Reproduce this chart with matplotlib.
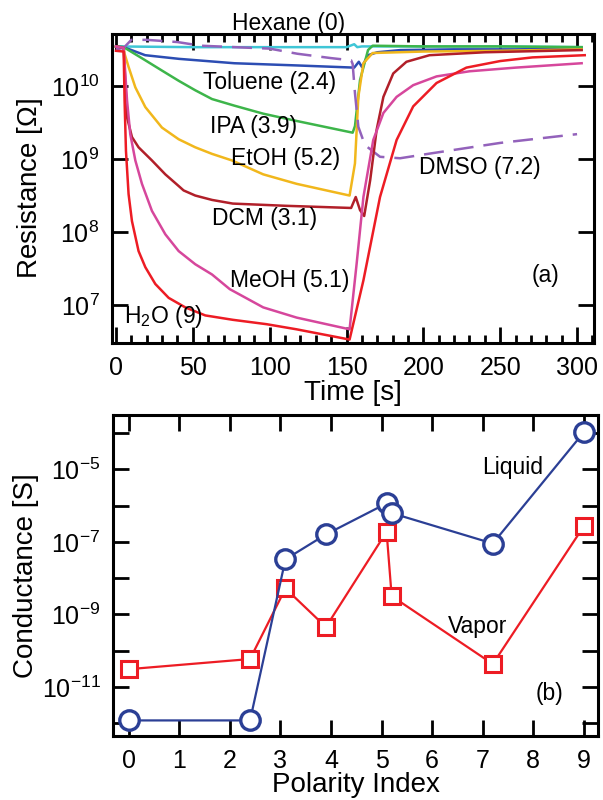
import numpy as np
import matplotlib
matplotlib.use("Agg")
import matplotlib.pyplot as plt
from matplotlib.ticker import FixedLocator, MultipleLocator

plt.rcParams["font.family"] = ["Liberation Sans", "DejaVu Sans"]
plt.rcParams["mathtext.fontset"] = "custom"
plt.rcParams["mathtext.rm"] = "Liberation Sans"
plt.rcParams["mathtext.it"] = "Liberation Sans"
plt.rcParams["mathtext.default"] = "regular"

# ---- panel (a): resistance transients, log10(R / Ohm) vs time [s] ----
hexane_t = [0, 50, 100, 150, 155, 157, 160, 200, 250, 303]
hexane_logr = [10.54, 10.53, 10.53, 10.53, 10.57, 10.53, 10.54, 10.54, 10.54, 10.53]

toluene_t = [0, 5, 19, 41, 77, 117.6, 155, 158, 160, 164, 170, 185, 220, 260, 303]
toluene_logr = [10.54, 10.53, 10.42, 10.37, 10.31, 10.28, 10.25, 10.33, 10.26, 10.42,
                10.46, 10.49, 10.5, 10.5, 10.51]

ipa_t = [0, 5, 19.1, 29.9, 40.8, 51.6, 62.5, 77, 95.8, 117.6, 154, 155.5, 158.8, 164,
         167, 200, 250, 303]
ipa_logr = [10.54, 10.53, 10.35, 10.21, 10.07, 9.94, 9.82, 9.73, 9.62, 9.52, 9.36, 9.45,
            10.08, 10.49, 10.55, 10.54, 10.54, 10.53]

etoh_t = [0, 5, 5.6, 8.2, 12.6, 19.1, 29.9, 40.8, 51.6, 62.5, 75.5, 95.8, 117.6, 152,
          155.5, 157.7, 161, 167, 200, 250, 303]
etoh_logr = [10.54, 10.52, 10.44, 10.26, 9.98, 9.71, 9.43, 9.27, 9.16, 9.07, 8.98, 8.79,
             8.66, 8.5, 8.94, 9.85, 10.31, 10.45, 10.47, 10.48, 10.5]

dcm_t = [0, 5, 6.1, 7.2, 10.4, 14.7, 23.4, 32.1, 40.8, 44, 51.6, 62.5, 76, 110, 153,
         156, 158.8, 161.5, 165.4, 169.6, 174, 180.4, 189, 204, 240, 303]
dcm_logr = [10.54, 10.52, 10.03, 9.57, 9.3, 9.16, 8.98, 8.79, 8.63, 8.57, 8.5, 8.44,
            8.39, 8.36, 8.33, 8.48, 8.3, 8.22, 8.71, 9.4, 9.85, 10.17, 10.33, 10.42,
            10.46, 10.49]

meoh_t = [0, 5, 7.2, 9.3, 12.6, 16.9, 23.4, 32.1, 40.8, 51.6, 62.5, 74, 95.8, 117.6,
          152, 156.6, 161, 167.4, 174, 182.6, 193.4, 208.6, 230, 260, 303]
meoh_logr = [10.54, 10.52, 9.8, 9.34, 8.98, 8.66, 8.29, 7.97, 7.74, 7.56, 7.42, 7.22,
             6.97, 6.83, 6.67, 7.57, 8.48, 9.26, 9.63, 9.85, 10.01, 10.13, 10.2, 10.25,
             10.31]

h2o_t = [0, 5, 5.6, 6.5, 8.2, 10.4, 14.7, 19.1, 25.6, 34.3, 45.1, 58.1, 76, 98, 117.5,
         152, 161, 171.8, 182.6, 193.4, 208.6, 228, 250, 271, 305]
h2o_logr = [10.48, 10.47, 9.8, 9.11, 8.52, 8.15, 7.74, 7.52, 7.29, 7.1, 6.97, 6.86, 6.8,
            6.74, 6.67, 6.53, 7.34, 8.48, 9.26, 9.72, 10.04, 10.25, 10.34, 10.39, 10.42]

dmso_t = [0, 5, 10, 20, 40, 55, 100, 118, 140, 153, 154, 155.5, 157.7, 162, 171.8,
          184.8, 206, 250, 300]
dmso_logr = [10.5, 10.52, 10.63, 10.63, 10.6, 10.55, 10.51, 10.44, 10.38, 10.35, 10.3,
             9.9, 9.44, 9.19, 9.03, 9.01, 9.08, 9.22, 9.34]

# ---- panel (b): conductance vs polarity index ----
polarity = [0, 2.4, 3.1, 3.9, 5.1, 5.2, 7.2, 9]
liquid_g = [1.2e-12, 1.2e-12, 3.3e-8, 1.6e-7, 1.15e-6, 6.2e-7, 9e-8, 1.05e-4]
vapor_g = [3.1e-11, 5.9e-11, 5.2e-9, 4.5e-10, 1.9e-7, 3.2e-9, 4.3e-11, 2.7e-7]

fig = plt.figure(figsize=(6.03, 8.0), dpi=100)
ax1 = fig.add_axes([0.1857, 0.571, 0.7993, 0.3865])
ax2 = fig.add_axes([0.1874, 0.08, 0.8043, 0.401])

curves = [
    (hexane_t, hexane_logr, "#3fc6d6", "-"),
    (toluene_t, toluene_logr, "#2c4db3", "-"),
    (ipa_t, ipa_logr, "#3db54a", "-"),
    (etoh_t, etoh_logr, "#f1b71c", "-"),
    (dmso_t, dmso_logr, "#9362bb", (0, (8, 4))),
    (dcm_t, dcm_logr, "#b11f29", "-"),
    (meoh_t, meoh_logr, "#d6479c", "-"),
    (h2o_t, h2o_logr, "#ed1c24", "-"),
]
for t, logr, color, ls in curves:
    ax1.plot(t, 10.0 ** np.array(logr), color=color, lw=1.8, ls=ls)

ax1.set_yscale("log")
ax1.set_xlim(-2.6, 311)
ax1.set_ylim(10 ** 6.48, 10 ** 10.71)
ax1.yaxis.set_major_locator(FixedLocator([1e7, 1e8, 1e9, 1e10]))
ax1.yaxis.set_minor_locator(FixedLocator([]))
ax1.set_yticklabels([r"$10^{7}$", r"$10^{8}$", r"$10^{9}$", r"$10^{10}$"])
ax1.xaxis.set_major_locator(MultipleLocator(50))
ax1.xaxis.set_minor_locator(MultipleLocator(10))
ax1.set_xlabel("Time [s]", fontsize=20, labelpad=0)
ax1.set_ylabel(r"Resistance [$\Omega$]", fontsize=20, labelpad=4)

txt = dict(fontsize=16.5, va="center")
ax1.text(112, 10 ** 10.86, "Hexane (0)", ha="center", clip_on=False, **txt)
ax1.text(56.6, 10 ** 10.04, "Toluene (2.4)", **txt)
ax1.text(61, 10 ** 9.45, "IPA (3.9)", **txt)
ax1.text(75, 10 ** 9.01, "EtOH (5.2)", **txt)
ax1.text(62.5, 10 ** 8.18, "DCM (3.1)", **txt)
ax1.text(74, 10 ** 7.34, "MeOH (5.1)", **txt)
ax1.text(197, 10 ** 8.88, "DMSO (7.2)", **txt)
ax1.text(5.2, 10 ** 6.84, r"H$_2$O (9)", **txt)
ax1.text(270.6, 10 ** 7.41, "(a)", **txt)

ax2.plot(polarity, vapor_g, color="#ed1c24", lw=1.6, marker="s", ms=11.5,
         mfc="white", mec="#ed1c24", mew=2.2)
ax2.plot(polarity, liquid_g, color="#2b3f95", lw=1.6, marker="o", ms=14,
         mfc="white", mec="#2b3f95", mew=2.4)
ax2.set_yscale("log")
ax2.set_xlim(-0.31, 9.28)
ax2.set_ylim(10 ** -12.35, 10 ** -3.51)
ax2.yaxis.set_major_locator(FixedLocator(10.0 ** np.arange(-12, -3)))
ax2.yaxis.set_minor_locator(FixedLocator([]))
ax2.set_yticklabels(["" if e % 2 == 0 else r"$10^{%d}$" % e for e in range(-12, -3)])
ax2.xaxis.set_major_locator(MultipleLocator(1))
ax2.set_xlabel("Polarity Index", fontsize=20, labelpad=0)
ax2.set_ylabel("Conductance [S]", fontsize=20, labelpad=2)
ax2.text(6.98, 10 ** -4.95, "Liquid", **txt)
ax2.text(6.31, 10 ** -9.32, "Vapor", **txt)
ax2.text(8.05, 10 ** -11.17, "(b)", **txt)

for ax in (ax1, ax2):
    for s in ax.spines.values():
        s.set_linewidth(2.2)
    ax.tick_params(which="both", direction="in", top=True, right=True,
                   width=2.0, labelsize=18)
    ax.tick_params(which="major", length=11.5)
    ax.tick_params(which="minor", length=6)
    ax.tick_params(axis="x", pad=9)
    ax.tick_params(axis="y", pad=9)

fig.savefig("out.png", dpi=100)
